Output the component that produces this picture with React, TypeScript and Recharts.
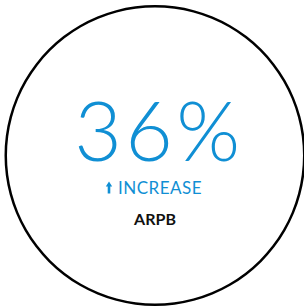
import React from 'react';
import { PieChart, Pie, Cell, Label } from 'recharts';

const ringData = [{ name: 'ARPB', value: 1 }];
const headlineValue = ['36%'];
const changeLabels = ['INCREASE'];
const metricLabels = ['ARPB'];

const BLUE = '#108fd4';
const CX = 155;
const CY = 155.5;

const CenterText = () => {
  return (
    <g>
      <text
        x={CX + 4}
        y={CY + 5}
        textAnchor="middle"
        fill={BLUE}
        style={{ fontFamily: 'Lato', fontWeight: 300, fontSize: 82, letterSpacing: 3.5 }}
      >
        {headlineValue[0]}
      </text>
      {/* up arrow before INCREASE */}
      <path d="M109 181.5 L112.2 186.5 L110.3 186.5 L110.3 193.5 L107.7 193.5 L107.7 186.5 L105.8 186.5 Z" fill={BLUE} />
      <text
        x={CX + 5}
        y={CY + 38}
        textAnchor="middle"
        fill={BLUE}
        style={{ fontFamily: 'Lato', fontWeight: 400, fontSize: 17, letterSpacing: 0.5 }}
      >
        {changeLabels[0]}
      </text>
      <text
        x={CX}
        y={CY + 69}
        textAnchor="middle"
        fill="#111"
        style={{ fontFamily: 'Lato', fontWeight: 700, fontSize: 16 }}
      >
        {metricLabels[0]}
      </text>
    </g>
  );
};

export default function App() {
  return (
    <div style={{ position: 'absolute', left: 0, top: 0, width: 304, height: 308, background: '#fff' }}>
      <PieChart width={304} height={308} margin={{ top: 0, right: 0, bottom: 0, left: 0 }}>
        <Pie
          data={ringData}
          dataKey="value"
          cx={CX}
          cy={CY}
          innerRadius={148}
          outerRadius={150.5}
          startAngle={90}
          endAngle={-270}
          stroke="none"
          isAnimationActive={false}
        >
          {ringData.map((d) => (
            <Cell key={d.name} fill="#000" />
          ))}
          <Label position="center" content={<CenterText />} />
        </Pie>
      </PieChart>
    </div>
  );
}
